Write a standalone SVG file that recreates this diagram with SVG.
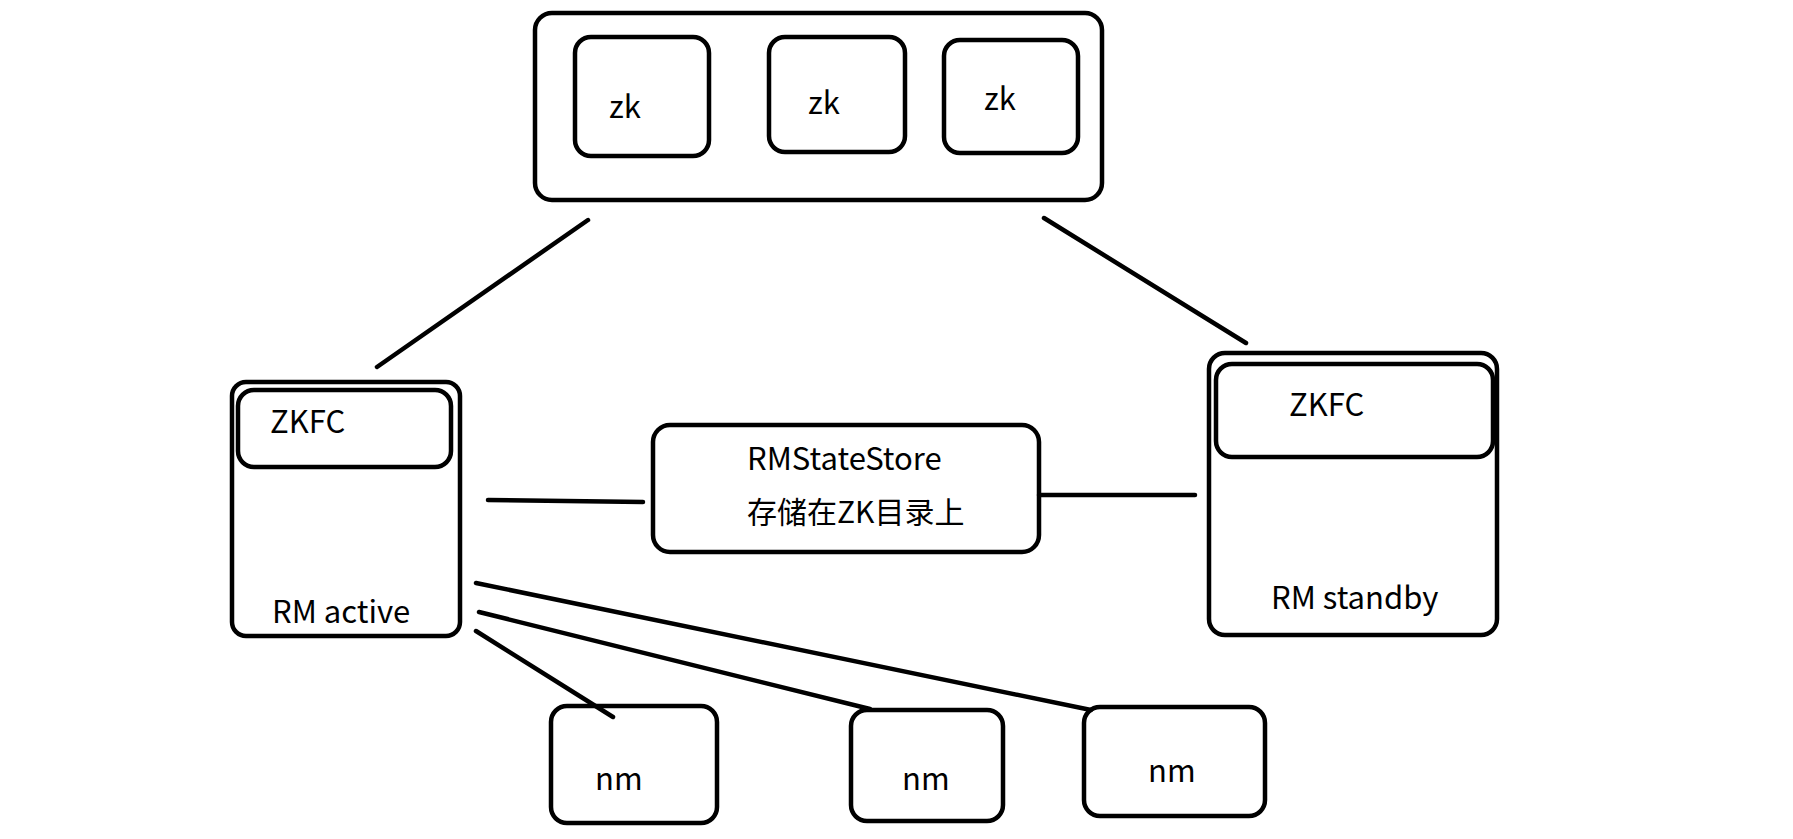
<svg xmlns="http://www.w3.org/2000/svg" width="1793" height="839" viewBox="0 0 1793 839">
<style>
.b{fill:#fff;stroke:#000;stroke-width:4.5}
.l{stroke:#000;stroke-width:4.5;stroke-linecap:round;fill:none}
text{font-family:"Noto Sans CJK SC","Liberation Sans",sans-serif;font-size:31px;fill:#000}
.cn{font-size:30px}
</style>
<rect width="1793" height="839" fill="#fff"/>
<g id="zk-cluster">
<rect class="b" x="535" y="13" width="567" height="187" rx="17"/>
</g>
<g id="zk1"><rect class="b" x="575" y="37" width="134" height="119" rx="16"/><text x="609" y="118">zk</text></g>
<g id="zk2"><rect class="b" x="769" y="37" width="136" height="115" rx="16"/><text x="808" y="114">zk</text></g>
<g id="zk3"><rect class="b" x="944" y="40" width="134" height="113" rx="16"/><text x="984" y="110">zk</text></g>
<g id="rm-active">
<rect class="b" x="232" y="382" width="228" height="254" rx="14"/>
<rect class="b" x="238" y="390" width="213" height="77" rx="16"/>
<text x="270" y="433">ZKFC</text>
<text x="272" y="623">RM active</text>
</g>
<g id="rm-standby">
<rect class="b" x="1209" y="353" width="288" height="282" rx="16"/>
<rect class="b" x="1216" y="364" width="277" height="93" rx="16"/>
<text x="1289" y="416">ZKFC</text>
<text x="1271" y="609">RM standby</text>
</g>
<g id="rmstatestore">
<rect class="b" x="653" y="425" width="386" height="127" rx="17"/>
<text x="747" y="470">RMStateStore</text>
<text class="cn" x="747" y="523">存储在ZK目录上</text>
</g>
<g id="nm1"><rect class="b" x="551" y="706" width="166" height="117" rx="16"/><text x="595" y="790">nm</text></g>
<g id="nm2"><rect class="b" x="851" y="710" width="152" height="111" rx="16"/><text x="902" y="790">nm</text></g>
<g id="nm3"><rect class="b" x="1084" y="707" width="181" height="109" rx="16"/><text x="1148" y="782">nm</text></g>
<g id="connectors">
<line class="l" x1="588" y1="220" x2="377" y2="367"/>
<line class="l" x1="1044" y1="218" x2="1246" y2="343"/>
<line class="l" x1="488" y1="500" x2="643" y2="502"/>
<line class="l" x1="1039" y1="495" x2="1195" y2="495"/>
<line class="l" x1="476" y1="631" x2="613" y2="717"/>
<line class="l" x1="479" y1="612" x2="870" y2="709"/>
<line class="l" x1="476" y1="583" x2="1091" y2="710"/>
</g>
</svg>
